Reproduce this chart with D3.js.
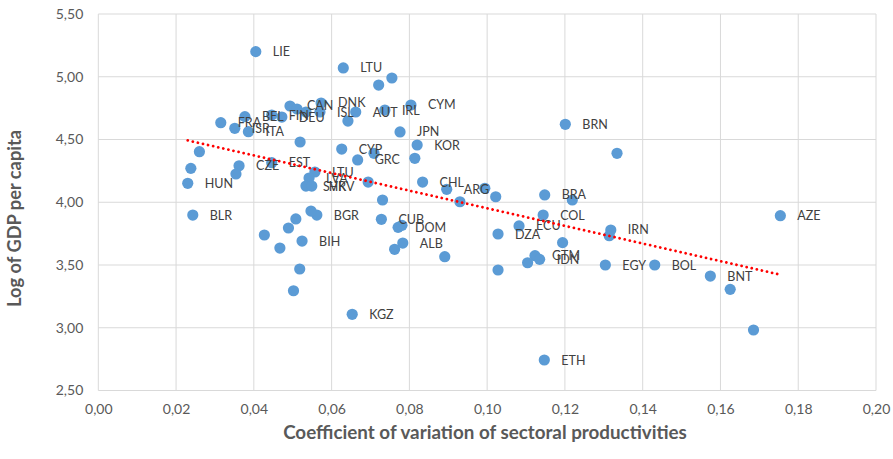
<!DOCTYPE html>
<html><head><meta charset="utf-8">
<script src="https://cdn.jsdelivr.net/npm/d3@7"></script>
<style>
html,body{margin:0;padding:0;background:#fff;}
svg{display:block;font-family:Lato,"Open Sans",sans-serif;}
</style></head>
<body>
<script>
// ---- data ----
const countryLabels = ["LIE","FRA","ISR","BEL","ITA","","","HUN","CZE","","EST","BLR",
 "FIN","DEU","CAN","","","DNK","ISL","AUT","","IRL","CYM","LTU","","","JPN","KOR",
 "","CYP","GRC","","","CHL","","LTU","LVA","SVK","HRV",
 "ARG","","","","BRA","","COL","ECU","DZA","","GTM","IDN","","","",
 "IRN","","EGY","BOL","ETH","AZE","BNT","","","BRN","",
 "CUB","","DOM","","ALB","","BGR","","","","","BIH","","","","KGZ"];
const coefVariation = [0.0405,0.0315,0.0351,0.0377,0.0386,0.0260,0.0238,0.0230,0.0362,0.0354,0.0446,0.0243,
 0.0446,0.0472,0.0493,0.0511,0.0534,0.0573,0.0570,0.0662,0.0642,0.0737,0.0804,0.0630,0.0755,0.0721,0.0776,0.0820,
 0.0519,0.0626,0.0667,0.0709,0.0814,0.0834,0.0694,0.0557,0.0542,0.0534,0.0549,
 0.0896,0.0930,0.0994,0.1022,0.1148,0.1219,0.1144,0.1082,0.1028,0.1194,0.1123,0.1135,0.1104,0.1028,0.0891,
 0.1318,0.1314,0.1304,0.1431,0.1147,0.1754,0.1574,0.1625,0.1685,0.1201,0.1334,
 0.0728,0.0731,0.0771,0.0781,0.0783,0.0762,0.0562,0.0547,0.0508,0.0489,0.0427,0.0524,0.0467,0.0518,0.0502,0.0653];
const logGdpPerCapita = [5.200,4.634,4.589,4.682,4.562,4.403,4.270,4.151,4.291,4.225,4.315,3.898,
 4.695,4.679,4.767,4.743,4.719,4.791,4.719,4.719,4.647,4.735,4.775,5.070,4.990,4.934,4.560,4.456,
 4.480,4.424,4.337,4.390,4.350,4.161,4.161,4.241,4.193,4.129,4.129,
 4.103,4.004,4.111,4.044,4.058,4.018,3.898,3.811,3.747,3.678,3.574,3.545,3.518,3.460,3.566,
 3.779,3.733,3.500,3.500,2.743,3.893,3.412,3.306,2.982,4.621,4.390,
 3.864,4.018,3.800,3.816,3.675,3.625,3.898,3.930,3.867,3.795,3.739,3.691,3.635,3.468,3.295,3.107];
// linear trend
const trendIntercept = 4.654;
const trendSlope = -7.02;
const xTickValues = [0,0.02,0.04,0.06,0.08,0.10,0.12,0.14,0.16,0.18,0.20];
const yTickValues = [2.5,3.0,3.5,4.0,4.5,5.0,5.5];
const xTitle = "Coefficient of variation of sectoral productivities";
const yTitle = "Log of GDP per capita";

// ---- layout ----
const W = 893, H = 459;
const plot = {left: 98.3, right: 876, top: 14, bottom: 390.5};

const svg = d3.select("body").append("svg").attr("width", W).attr("height", H);
svg.append("rect").attr("width", W).attr("height", H).attr("fill", "#fff");

const x = d3.scaleLinear().domain([0, 0.2]).range([plot.left, plot.right]);
const y = d3.scaleLinear().domain([2.5, 5.5]).range([plot.bottom, plot.top]);

const loc = d3.formatLocale({decimal: ",", thousands: ".", grouping: [3], currency: ["", ""]});
const fmt = loc.format(".2f");

// gridlines
const grid = svg.append("g");
grid.selectAll("line.v").data(xTickValues).join("line")
  .attr("x1", d => x(d)).attr("x2", d => x(d))
  .attr("y1", plot.top).attr("y2", plot.bottom)
  .attr("stroke", "#D9D9D9").attr("stroke-width", 1);
grid.selectAll("line.h").data(yTickValues).join("line")
  .attr("x1", plot.left).attr("x2", plot.right)
  .attr("y1", d => y(d)).attr("y2", d => y(d))
  .attr("stroke", "#D9D9D9").attr("stroke-width", 1);

// axes (labels only)
const xAxis = d3.axisBottom(x).tickValues(xTickValues).tickFormat(fmt).tickSize(0).tickPadding(14);
const gx = svg.append("g").attr("transform", `translate(0,${plot.bottom})`).call(xAxis);
gx.select(".domain").remove();
gx.selectAll("text").attr("fill", "#595959").attr("font-size", "14px").attr("font-family", "Lato");

const yAxis = d3.axisLeft(y).tickValues(yTickValues).tickFormat(fmt).tickSize(0).tickPadding(15);
const gy = svg.append("g").attr("transform", `translate(${plot.left},0)`).call(yAxis);
gy.select(".domain").remove();
gy.selectAll("text").attr("fill", "#595959").attr("font-size", "14px").attr("font-family", "Lato");

// data
const points = countryLabels.map((n, i) => ({name: n, cv: coefVariation[i], gdp: logGdpPerCapita[i]}));
const [xmin, xmax] = d3.extent(points, d => d.cv);

// points
svg.append("g").selectAll("circle").data(points).join("circle")
  .attr("cx", d => x(d.cv)).attr("cy", d => y(d.gdp)).attr("r", 5.6)
  .attr("fill", "#5B9BD5");

// labels
svg.append("g").selectAll("text").data(points.filter(d => d.name)).join("text")
  .attr("x", d => x(d.cv) + 17).attr("y", d => y(d.gdp))
  .attr("dy", "0.36em")
  .attr("fill", "#404040").attr("font-size", "12.5px")
  .text(d => d.name);

// trend line
svg.append("line")
  .attr("x1", x(xmin)).attr("y1", y(trendIntercept + trendSlope * xmin))
  .attr("x2", x(xmax)).attr("y2", y(trendIntercept + trendSlope * xmax))
  .attr("stroke", "#FF0000").attr("stroke-width", 2.8)
  .attr("stroke-linecap", "round").attr("stroke-dasharray", "0.01 5.2");

// titles, sized to the reference's text lengths
function fitText(sel, target) {
  const s0 = parseFloat(sel.attr("font-size"));
  const len = sel.node().getComputedTextLength();
  if (len > 0) sel.attr("font-size", (s0 * target / len).toFixed(2) + "px");
}
const xt = svg.append("text").attr("x", 485).attr("y", 438.5)
  .attr("text-anchor", "middle").attr("font-weight", "bold").attr("font-size", "16.5px")
  .attr("fill", "#595959").text(xTitle);
fitText(xt, 404);
const yt = svg.append("text").attr("transform", "translate(21,218.5) rotate(-90)")
  .attr("text-anchor", "middle").attr("font-weight", "bold").attr("font-size", "16.5px")
  .attr("fill", "#595959").text(yTitle);
fitText(yt, 177);
</script>
</body></html>
